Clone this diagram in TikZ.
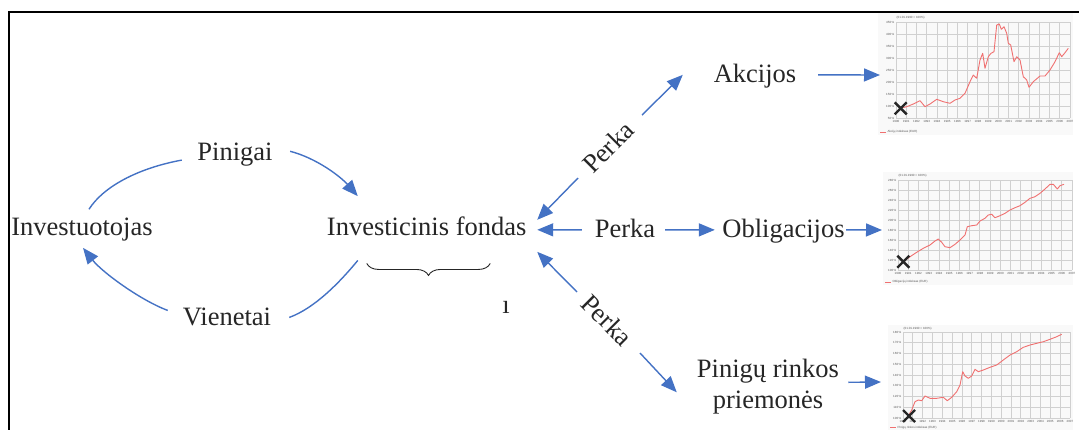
\documentclass[tikz,border=0pt]{standalone}
\usepackage{fontspec}
\setmainfont{Liberation Serif}
\newfontfamily\chartfont{Liberation Sans}
\usetikzlibrary{arrows.meta,calc,decorations.pathreplacing}

\definecolor{flowblue}{RGB}{68,114,196}
\definecolor{chartred}{RGB}{240,112,112}
\definecolor{gridgray}{RGB}{208,208,208}
\definecolor{chartbg}{RGB}{249,249,249}
\definecolor{inkgray}{RGB}{38,38,38}

\tikzset{
  lbl/.style={font=\fontsize{26.5}{31}\selectfont, inner sep=0pt, text=inkgray},
  flow/.style={draw=flowblue, line width=1.4pt},
  flowarrow/.style={flow, -{Triangle[length=16pt,width=13pt]}},
  grid line/.style={draw=gridgray, line width=0.8pt},
  tick/.style={font=\chartfont\fontsize{3}{3.5}\selectfont, inner sep=0.4pt, text=black!65},
  curve/.style={draw=chartred, line width=0.9pt, line join=round},
  startmark/.style={draw=inkgray, line width=2.4pt},
  frame/.style={draw=black, line width=1.4pt}
}

\begin{document}
\begin{tikzpicture}[x=1pt,y=-1pt]
\useasboundingbox (0,0) rectangle (1079,429);

% ---------- chart panels ----------
% stocks
\fill[chartbg] (878,13) rectangle (1073,135);
\foreach \i in {0,...,17} \draw[grid line] ({896+\i*10.235},22) -- ({896+\i*10.235},118);
\foreach \j in {0,...,8} \draw[grid line] (896,{22+\j*12}) -- (1070,{22+\j*12});
\foreach \j/\v in {0/450,1/400,2/350,3/300,4/250,5/200,6/150,7/100,8/50}
  \node[tick, anchor=east] at (895,{22+\j*12}) {\v\,\%};
\foreach \i in {0,...,17}{\pgfmathtruncatemacro\yr{1990+\i}
  \node[tick, anchor=north] at ({896+\i*10.235},119.5) {\yr};}
\node[tick, anchor=west] at (896,17.5) {(01.01.1990 = 100\%)};
\draw[draw=chartred, line width=0.8pt] (880,132) -- (886,132);
\node[tick, anchor=west] at (887,132) {Akcijų indeksas (EUR)};
\draw[curve] (900,108.3) -- (906.7,106.7) -- (913.3,104) -- (920,100.7) -- (925,106.7)
  -- (930,104) -- (936.7,99.3) -- (943.3,101.7) -- (950,103.3) -- (955,100) -- (960,98.3)
  -- (965,93.3) -- (970,81.7) -- (973.3,75) -- (976.7,78.3) -- (980,60) -- (982.7,53.3)
  -- (985,68.3) -- (988.3,56.7) -- (991,53.3) -- (994,51.7) -- (996.7,25) -- (999.3,24)
  -- (1001.3,29.3) -- (1004,26.7) -- (1006.7,33.3) -- (1008.3,43.3) -- (1010.7,45)
  -- (1014,61.7) -- (1016.7,56.7) -- (1020,60) -- (1023.3,76.7) -- (1026.7,80)
  -- (1029,87.3) -- (1033.3,81.7) -- (1040,76) -- (1045,76) -- (1050,70) -- (1055,61.7)
  -- (1059.3,52.7) -- (1061.7,56.7) -- (1065,52.7) -- (1068.3,48.3);
\draw[startmark] (900.7,108.3) ++(-6,-6) -- ++(12,12) ++(-12,0) -- ++(12,-12);
\coordinate (c1) at (880,75);

% bonds
\fill[chartbg] (883,172) rectangle (1073,285);
\foreach \i in {0,...,17} \draw[grid line] ({898+\i*10.235},180) -- ({898+\i*10.235},270);
\foreach \j in {0,...,9} \draw[grid line] (898,{180+\j*10}) -- (1072,{180+\j*10});
\foreach \j/\v in {0/280,1/260,2/240,3/220,4/200,5/180,6/160,7/140,8/120,9/100}
  \node[tick, anchor=east] at (897,{180+\j*10}) {\v\,\%};
\foreach \i in {0,...,17}{\pgfmathtruncatemacro\yr{1990+\i}
  \node[tick, anchor=north] at ({898+\i*10.235},271.5) {\yr};}
\node[tick, anchor=west] at (898,176) {(01.01.1990 = 100\%)};
\draw[draw=chartred, line width=0.8pt] (885,282) -- (891,282);
\node[tick, anchor=west] at (892,282) {Obligacijų indeksas (EUR)};
\draw[curve] (903.3,261.7) -- (910,256.7) -- (916.7,252.3) -- (923.3,248.3) -- (930,245)
  -- (935,241) -- (938.3,239) -- (941.7,242.3) -- (945,246.7) -- (950,247.7) -- (955,244.3)
  -- (960,240) -- (965,235) -- (967.3,226.7) -- (971.7,225.7) -- (976.7,225) -- (980,221)
  -- (985,218.3) -- (988.3,215) -- (991.7,214.3) -- (995,217.7) -- (1000,215.7)
  -- (1005,213.3) -- (1010,210) -- (1015,207.7) -- (1020,205.7) -- (1025,202.3)
  -- (1030,198.3) -- (1035,196.7) -- (1040,193.3) -- (1045,189) -- (1050,184.3)
  -- (1053.3,184.3) -- (1057.3,189) -- (1060,185.7) -- (1064,184.3);
\draw[startmark] (903.3,261.7) ++(-6,-6) -- ++(12,12) ++(-12,0) -- ++(12,-12);
\coordinate (c2) at (882,230);

% money market
\fill[chartbg] (888,325) rectangle (1073,432);
\foreach \i in {0,...,17} \draw[grid line] ({903+\i*9.82},332) -- ({903+\i*9.82},418);
\foreach \j in {0,...,8} \draw[grid line] (903,{332+\j*10.75}) -- (1070,{332+\j*10.75});
\foreach \j/\v in {0/180,1/170,2/160,3/150,4/140,5/130,6/120,7/110,8/100}
  \node[tick, anchor=east] at (902,{332+\j*10.75}) {\v\,\%};
\foreach \i in {0,...,17}{\pgfmathtruncatemacro\yr{1990+\i}
  \node[tick, anchor=north] at ({903+\i*9.82},419.5) {\yr};}
\node[tick, anchor=west] at (903,328.5) {(01.01.1990 = 100\%)};
\draw[draw=chartred, line width=0.8pt] (890,427.5) -- (896,427.5);
\node[tick, anchor=west] at (897,427.5) {Pinigų rinkos indeksas (EUR)};
\draw[curve] (908.3,416) -- (911.7,410) -- (915,401.7) -- (918.3,400) -- (921.7,400.7)
  -- (925,396) -- (930,398.3) -- (936.7,398.3) -- (943.3,397.3) -- (947.3,400.7)
  -- (951.7,397.3) -- (956.7,391.7) -- (960,385) -- (962.7,371.7) -- (965,376)
  -- (968.3,378.3) -- (971.7,376) -- (975,369.3) -- (978.3,371.7) -- (983.3,370)
  -- (990,367.3) -- (996.7,365) -- (1003.3,360) -- (1010,355) -- (1016.7,351.7)
  -- (1023.3,347.3) -- (1030,345) -- (1036.7,343.3) -- (1043.3,341.7) -- (1050,339.3)
  -- (1056.7,336.7) -- (1061.7,334.3);
\draw[startmark] (909,416) ++(-6,-6) -- ++(12,12) ++(-12,0) -- ++(12,-12);
\coordinate (c3) at (881,382);

% ---------- outer frame ----------
\draw[frame] (9,431) -- (9,12) -- (1081,12);

% ---------- labels ----------
\node[lbl, anchor=base] (inv)  at (82,235)    {Investuotojas};
\node[lbl, anchor=base] (fond) at (426.7,235) {Investicinis fondas};
\node[lbl, anchor=base] (pin)  at (235,160.5) {Pinigai};
\node[lbl, anchor=base] (vie)  at (227,325)   {Vienetai};
\node[lbl, anchor=base] (akc)  at (755,82.5)  {Akcijos};
\node[lbl, anchor=base] (obl)  at (783.5,237) {Obligacijos};
\node[lbl, anchor=base] (p2)   at (625,237.5) {Perka};
\node[lbl, align=center] (pri) at (768,386.3) {Pinigų rinkos\\priemonės};
\node[lbl, rotate=45]  (p1) at (608,147) {Perka};
\node[lbl, rotate=-45] (p3) at (607,320) {Perka};
\node[lbl, anchor=base] (mark) at (506,313) {ı};

% ---------- money / units cycle ----------
\draw[flow] ($(pin.west)+(-15.5,5.5)$) .. controls (137.7,168.2) and (103.2,186.8) .. ($(inv.north)+(7,-8)$);
\draw[flowarrow] ($(pin.east)+(17.4,-3.3)$) .. controls (316,158) and (340,176) .. ($(fond.north west)+(31,-20)$);
\draw[flow] ($(fond.south west)+(31,25)$) .. controls (340,282) and (315,308) .. ($(vie.east)+(18,1)$);
\draw[flowarrow] ($(vie.west)+(-15,-6)$) .. controls (140,300) and (102,272) .. ($(inv.south)+(1,7)$);

\draw[draw=inkgray, line width=0.9pt, decorate, decoration={brace, mirror, amplitude=12pt}]
  ($(fond.south west)+(40,28)$) -- ($(fond.south east)+(-36.4,28)$);

% ---------- purchases ----------
\draw[flowarrow] ($(p1)+(-30,31)$) -- ($(fond.east)+(10.6,-6)$);
\draw[flowarrow] ($(p1)+(34,-32)$) -- ($(akc.west)+(-30.8,-1.3)$);
\draw[flowarrow] ($(p2.west)+(-12.8,1.5)$) -- ($(fond.east)+(10.6,4)$);
\draw[flowarrow] ($(p2.east)+(9.8,1.5)$) -- ($(obl.west)+(-7.4,-0.8)$);
\draw[flowarrow] ($(p3)+(-30,-28)$) -- ($(fond.east)+(10.6,26)$);
\draw[flowarrow] ($(p3)+(33,33)$) -- ($(pri.west)+(-20,6)$);

% ---------- to charts ----------
\draw[flowarrow] ($(akc.east)+(21.8,-1.3)$) -- (c1);
\draw[flowarrow] ($(obl.east)+(1.4,-0.8)$) -- (c2);
\draw[flowarrow] ($(pri.east)+(9,-4)$) -- (c3);
\end{tikzpicture}
\end{document}
